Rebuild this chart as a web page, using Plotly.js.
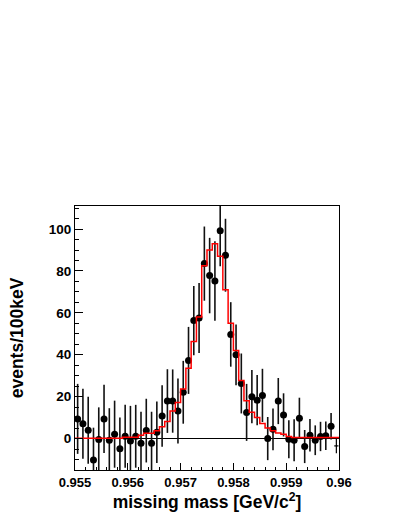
<!DOCTYPE html>
<html>
<head>
<meta charset="utf-8">
<script src="https://cdn.plot.ly/plotly-3.0.1.min.js"></script>
<style>
  html, body { margin: 0; padding: 0; background: #ffffff; }
  #plot { width: 407px; height: 527px; }
</style>
</head>
<body>
<div id="plot"></div>
<script>
// Binning of the missing mass histogram (GeV/c^2), 100 keV per bin
const binLow = 0.955;
const binWidth = 0.0001;

// Measured events per bin (bins 0..48)
const counts = [9.4, 7.1, 4.0, -10.2, -0.5, 9.4, -0.8, 2.1, -4.9, 1.1,
  -1.1, 1.1, -2.2, 3.8, -2.2, 3.0, 10.8, 17.9, 17.9, 13.2,
  22.1, 37.3, 56.3, 57.5, 83.5, 77.8, 75.2, 99.2, 87.5, 49.7,
  40.0, 26.3, 12.5, 20.0, 18.3, 20.6, 0.0, 4.4, 17.9, 11.3,
  -0.3, -0.8, 9.7, -3.8, 1.6, -0.8, 1.0, 1.4, 5.9];
const errors = [16.7, 16.7, 16.0, 15.4, 15.4, 16.3, 15.3, 16.0, 15.0, 15.0,
  16.7, 15.0, 15.0, 15.2, 15.0, 14.7, 14.7, 15.2, 15.1, 15.5,
  15.0, 16.0, 16.5, 16.7, 17.7, 18.0, 19.0, 17.0, 17.4, 15.4,
  14.5, 14.3, 13.6, 12.7, 12.0, 12.7, 10.3, 10.0, 11.0, 10.3,
  9.1, 10.0, 9.8, 7.9, 7.8, 7.1, 7.0, 6.8, 6.3];

// Last bin is drawn without a marker
const lastBinCount = [-3.5];
const lastBinError = [3.5];

// Fitted line shape, one value per bin (bins 0..49)
const fit = [0.2, 0.2, 0.2, 0.2, 0.2, 0.2, 0.2, 0.2, 0.2, 0.6,
  0.6, 0.6, 1.6, 2.5, 2.5, 3.7, 5.7, 8.1, 13.2, 17.2,
  23.6, 33.6, 46.3, 58.0, 82.5, 90.0, 93.0, 87.0, 71.0, 55.0,
  42.0, 27.7, 18.1, 12.6, 10.0, 7.2, 5.0, 3.7, 2.6, 2.1,
  1.0, 0.5, 0.5, 0.5, 0.5, 0.5, 0.5, 0.5, 0.5, 0.5];

const xTickVals = [0.955, 0.956, 0.957, 0.958, 0.959, 0.96];
const xTickText = ["0.955", "0.956", "0.957", "0.958", "0.959", "0.96"];
const yTickVals = [0, 20, 40, 60, 80, 100];

const centers = counts.map((_, i) => binLow + (i + 0.5) * binWidth);
const lastCenter = [binLow + (counts.length + 0.5) * binWidth];

// step histogram: left edges plus closing edge
const edges = fit.map((_, i) => binLow + i * binWidth);
edges.push(binLow + fit.length * binWidth);
const fitSteps = fit.concat([fit[fit.length - 1]]);

const font = { family: "Liberation Sans, Arial, sans-serif", color: "#000000" };

const dataTrace = {
  x: centers,
  y: counts,
  type: "scatter",
  mode: "markers",
  marker: { color: "#000000", size: 7 },
  error_y: { type: "data", array: errors, visible: true, color: "#111111", thickness: 1.6, width: 0 },
  hoverinfo: "skip",
};

const lastTrace = {
  x: lastCenter,
  y: lastBinCount,
  type: "scatter",
  mode: "markers",
  marker: { color: "#000000", size: 1 },
  error_y: { type: "data", array: lastBinError, visible: true, color: "#000000", thickness: 1.2, width: 0 },
  error_x: { type: "data", array: [binWidth * 0.4], visible: true, color: "#000000", thickness: 1.2, width: 0 },
  hoverinfo: "skip",
};

const fitTrace = {
  x: edges,
  y: fitSteps,
  type: "scatter",
  mode: "lines",
  line: { color: "#ff0000", width: 1.5, shape: "hv" },
  hoverinfo: "skip",
};

const layout = {
  width: 407,
  height: 527,
  margin: { l: 75, r: 68, t: 206, b: 57 },
  showlegend: false,
  paper_bgcolor: "#ffffff",
  plot_bgcolor: "#ffffff",
  font: font,
  xaxis: {
    range: [0.955, 0.96],
    tickvals: xTickVals,
    ticktext: xTickText,
    ticks: "inside",
    ticklen: 7,
    tickwidth: 1,
    tickcolor: "#000000",
    minor: { dtick: 0.0002, ticks: "inside", ticklen: 3.5, tickcolor: "#000000" },
    showline: true,
    mirror: true,
    linecolor: "#000000",
    linewidth: 1,
    showgrid: false,
    zeroline: false,
    tickfont: { family: font.family, size: 13, weight: "bold", color: "#000000" },
    title: {
      text: "missing mass [GeV/c<sup>2</sup>]",
      font: { family: font.family, size: 17.5, weight: "bold", color: "#000000" },
      standoff: 6,
    },
  },
  yaxis: {
    range: [-15, 111],
    tickvals: yTickVals,
    ticks: "inside",
    ticklen: 7.5,
    tickwidth: 1,
    tickcolor: "#000000",
    minor: { dtick: 5, ticks: "inside", ticklen: 4, tickcolor: "#000000" },
    showline: true,
    mirror: true,
    linecolor: "#000000",
    linewidth: 1,
    showgrid: false,
    zeroline: true,
    zerolinecolor: "#000000",
    zerolinewidth: 1.5,
    tickfont: { family: font.family, size: 13.5, weight: "bold", color: "#000000" },
    title: {
      text: "events/100keV",
      font: { family: font.family, size: 17.5, weight: "bold", color: "#000000" },
      standoff: 20,
    },
  },
};

Plotly.newPlot("plot", [dataTrace, lastTrace, fitTrace], layout, {
  displayModeBar: false,
  staticPlot: true,
});
</script>
</body>
</html>
